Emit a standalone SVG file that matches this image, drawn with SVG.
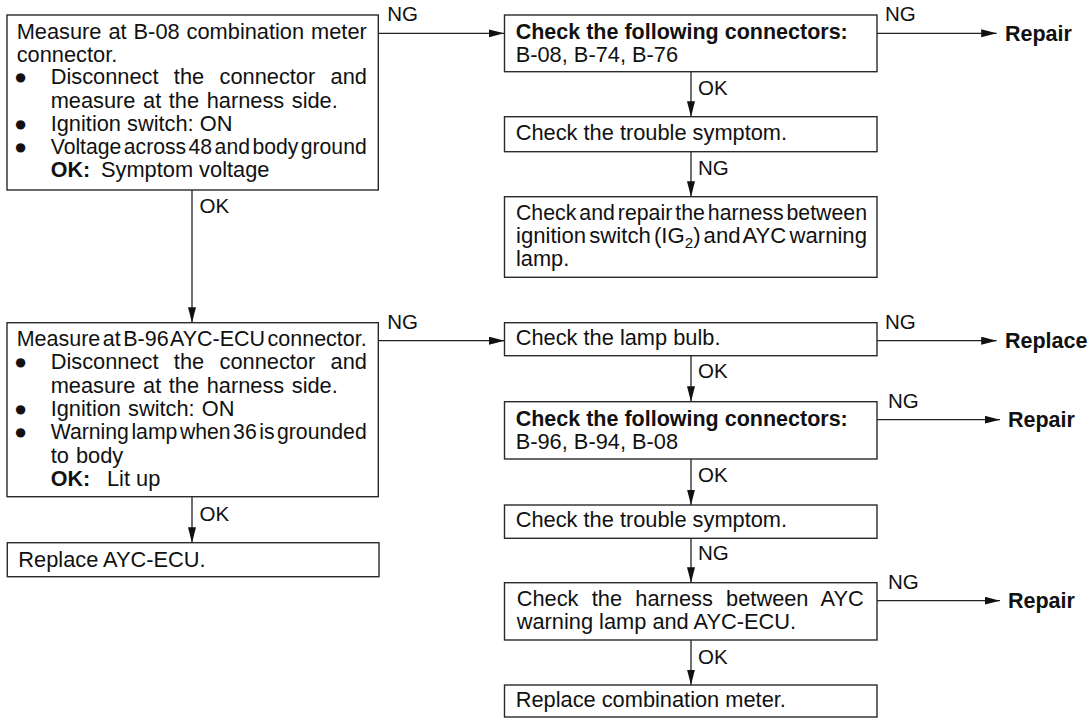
<svg xmlns="http://www.w3.org/2000/svg" width="1088" height="719" viewBox="0 0 1088 719">
<defs>
<style>
.box{fill:#fff;stroke:#2a2a2a;stroke-width:1.4}
text{font-family:"Liberation Sans",Arial,"DejaVu Sans",sans-serif;font-size:21.8px;fill:#111}
.b{font-weight:bold;font-size:21.5px}
.lbl{font-size:20.5px}
.c{stroke:#222;stroke-width:1.3;fill:none;marker-end:url(#ah)}
</style>
<marker id="ah" markerUnits="userSpaceOnUse" markerWidth="17" markerHeight="9" refX="15.5" refY="4" orient="auto">
<path d="M0,0 L15.5,4 L0,8 z" fill="#111"/>
</marker>
</defs>
<rect width="1088" height="719" fill="#fff"/>

<g id="connectors">
<line class="c" x1="378" y1="33.3" x2="504" y2="33.3"/>
<line class="c" x1="192" y1="190" x2="192" y2="322.7"/>
<line class="c" x1="192" y1="496.7" x2="192" y2="542.7"/>
<line class="c" x1="378.3" y1="340.7" x2="504.5" y2="340.7"/>
<line class="c" x1="877" y1="33.3" x2="996.7" y2="33.3"/>
<line class="c" x1="691" y1="71.7" x2="691" y2="116.7"/>
<line class="c" x1="691" y1="151.7" x2="691" y2="196.7"/>
<line class="c" x1="877" y1="340.7" x2="996.7" y2="340.7"/>
<line class="c" x1="691" y1="355.7" x2="691" y2="401.7"/>
<line class="c" x1="877" y1="419.7" x2="1000" y2="419.7"/>
<line class="c" x1="691" y1="459" x2="691" y2="505"/>
<line class="c" x1="691" y1="538.3" x2="691" y2="582.7"/>
<line class="c" x1="877" y1="600.7" x2="1000" y2="600.7"/>
<line class="c" x1="691" y1="640" x2="691" y2="685"/>
<text class="lbl" x="387.3" y="21">NG</text>
<text class="lbl" x="199.5" y="213">OK</text>
<text class="lbl" x="387.3" y="328.7">NG</text>
<text class="lbl" x="199.5" y="521">OK</text>
<text class="lbl" x="885" y="21">NG</text>
<text class="lbl" x="698" y="95">OK</text>
<text class="lbl" x="698" y="175">NG</text>
<text class="lbl" x="885" y="328.7">NG</text>
<text class="lbl" x="698" y="378.3">OK</text>
<text class="lbl" x="888" y="407.7">NG</text>
<text class="lbl" x="698" y="481.7">OK</text>
<text class="lbl" x="698" y="560">NG</text>
<text class="lbl" x="888" y="588.7">NG</text>
<text class="lbl" x="698" y="664">OK</text>
</g>

<g id="n1">
<rect class="box" x="7" y="15" width="371.3" height="175"/>
<text x="16.7" y="38.8" word-spacing="0.9">Measure at B-08 combination meter</text>
<text x="16.7" y="61.6">connector.</text>
<text x="14" y="84.4">●</text>
<text x="50.7" y="84.4" word-spacing="9.3">Disconnect the connector and</text>
<text x="50.7" y="107.8" word-spacing="1.5">measure at the harness side.</text>
<text x="14" y="131.2">●</text>
<text x="50.7" y="131.2">Ignition switch: ON</text>
<text x="14" y="154.4">●</text>
<text x="50.7" y="154.4" word-spacing="-3.5" textLength="316" lengthAdjust="spacingAndGlyphs">Voltage across 48 and body ground</text>
<text class="b" x="50.7" y="177.4">OK:</text>
<text x="101" y="177.4">Symptom voltage</text>
</g>

<g id="n3">
<rect class="box" x="7" y="322.7" width="371.3" height="174"/>
<text x="16.7" y="346" word-spacing="-3.5" textLength="350" lengthAdjust="spacingAndGlyphs">Measure at B-96 AYC-ECU connector.</text>
<text x="14" y="369.3">●</text>
<text x="50.7" y="369.3" word-spacing="9.3">Disconnect the connector and</text>
<text x="50.7" y="392.6" word-spacing="1.5">measure at the harness side.</text>
<text x="14" y="415.9">●</text>
<text x="50.7" y="415.9" word-spacing="1">Ignition switch: ON</text>
<text x="14" y="439.2">●</text>
<text x="50.7" y="439.2" word-spacing="-3.5" textLength="316" lengthAdjust="spacingAndGlyphs">Warning lamp when 36 is grounded</text>
<text x="50.7" y="462.5" word-spacing="1">to body</text>
<text class="b" x="50.7" y="485.8">OK:</text>
<text x="107" y="485.8">Lit up</text>
</g>

<g id="n4">
<rect class="box" x="7.3" y="542.7" width="371.7" height="34"/>
<text x="18.3" y="567">Replace AYC-ECU.</text>
</g>

<g id="n2">
<rect class="box" x="504.5" y="15" width="372.5" height="56.7"/>
<text class="b" x="515.7" y="38.5">Check the following connectors:</text>
<text x="515.7" y="61.8">B-08, B-74, B-76</text>
</g>

<g id="n5">
<rect class="box" x="504.5" y="116.7" width="372.5" height="35"/>
<text x="515.7" y="140">Check the trouble symptom.</text>
</g>

<g id="n6">
<rect class="box" x="504.5" y="196.7" width="372.5" height="80.6"/>
<text x="516" y="220" word-spacing="-3" textLength="351" lengthAdjust="spacingAndGlyphs">Check and repair the harness between</text>
<text x="516" y="243.3" word-spacing="-3" textLength="351" lengthAdjust="spacingAndGlyphs">ignition switch (IG<tspan font-size="15" dy="5">2</tspan><tspan dy="-5">) and AYC warning</tspan></text>
<text x="516" y="266.4">lamp.</text>
</g>

<g id="n7">
<rect class="box" x="504.5" y="322.7" width="372.5" height="33"/>
<text x="515.7" y="345">Check the lamp bulb.</text>
</g>

<g id="n8">
<rect class="box" x="504.5" y="401.7" width="372.5" height="57.3"/>
<text class="b" x="515.7" y="426">Check the following connectors:</text>
<text x="515.7" y="449.3">B-96, B-94, B-08</text>
</g>

<g id="n9">
<rect class="box" x="504.5" y="505" width="372.5" height="33.3"/>
<text x="515.7" y="526.7">Check the trouble symptom.</text>
</g>

<g id="n10">
<rect class="box" x="504.5" y="582.7" width="372.5" height="57.3"/>
<text x="516.7" y="606" word-spacing="7.2">Check the harness between AYC</text>
<text x="516.7" y="629.3">warning lamp and AYC-ECU.</text>
</g>

<g id="n11">
<rect class="box" x="504.5" y="685" width="372.5" height="32"/>
<text x="515.7" y="706.7">Replace combination meter.</text>
</g>

<g id="t1"><text class="b" x="1005" y="40.8">Repair</text></g>
<g id="t2"><text class="b" x="1005" y="348.2">Replace</text></g>
<g id="t3"><text class="b" x="1008" y="427.2">Repair</text></g>
<g id="t4"><text class="b" x="1008" y="608.2">Repair</text></g>
</svg>
